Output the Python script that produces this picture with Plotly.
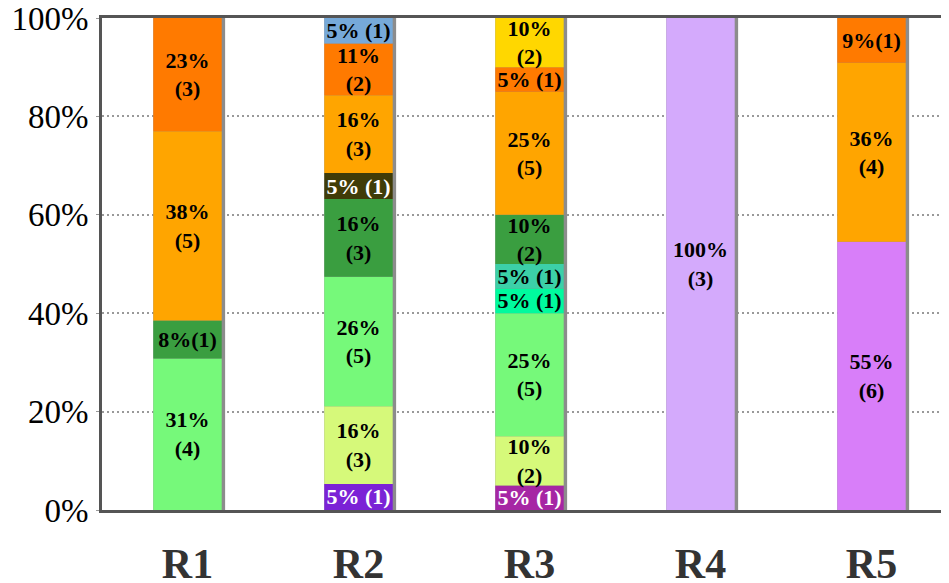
import plotly.graph_objects as go

# Data (bottom segment first)
cats = ["R1", "R2", "R3", "R4", "R5"]

r1_pct = [30.8, 7.7, 38.5, 23.0]
r1_labels = ["31%<br>(4)", "8%(1)", "38%<br>(5)", "23%<br>(3)"]

r2_pct = [5.3, 15.8, 26.3, 15.8, 5.3, 15.8, 10.5, 5.3]
r2_labels = ["5% (1)", "16%<br>(3)", "26%<br>(5)", "16%<br>(3)", "5% (1)",
             "16%<br>(3)", "11%<br>(2)", "5% (1)"]

r3_pct = [5, 10, 25, 5, 5, 10, 25, 5, 10]
r3_labels = ["5% (1)", "10%<br>(2)", "25%<br>(5)", "5% (1)", "5% (1)",
             "10%<br>(2)", "25%<br>(5)", "5% (1)", "10%<br>(2)"]

r4_pct = [100]
r4_labels = ["100%<br>(3)"]

r5_pct = [54.5, 36.4, 9.1]
r5_labels = ["55%<br>(6)", "36%<br>(4)", "9%(1)"]

y_ticks = [0, 20, 40, 60, 80, 100]
y_ticktext = ["0%", "20%", "40%", "60%", "80%", "100%"]

# Colours
pal = {
    "lgreen": "#76F97A", "dgreen": "#3A9E40", "orange": "#FFA500",
    "dorange": "#FF7A00", "purple": "#7B22D6", "ygreen": "#D6F97A",
    "olive": "#403C08", "blue": "#76A9D9", "magenta": "#A626A4",
    "spring": "#00FA9E", "teal": "#3CD0A8", "gold": "#FFD700",
    "lavender": "#D4AAFC", "orchid": "#D87EF9",
}
r1_col = ["lgreen", "dgreen", "orange", "dorange"]
r2_col = ["purple", "ygreen", "lgreen", "dgreen", "olive", "orange", "dorange", "blue"]
r3_col = ["magenta", "ygreen", "lgreen", "spring", "teal", "dgreen", "orange", "dorange", "gold"]
r4_col = ["lavender"]
r5_col = ["orchid", "orange", "dorange"]
white_text = {"purple", "olive", "magenta"}

bars = [
    (cats[0], r1_pct, r1_labels, r1_col),
    (cats[1], r2_pct, r2_labels, r2_col),
    (cats[2], r3_pct, r3_labels, r3_col),
    (cats[3], r4_pct, r4_labels, r4_col),
    (cats[4], r5_pct, r5_labels, r5_col),
]

fig = go.Figure()

# grey edge behind each bar
fig.add_trace(go.Bar(
    x=cats, y=[100] * len(cats), base=0,
    width=0.42, offset=-0.2,
    marker=dict(color="#8c8c8c", line_width=0),
    hoverinfo="skip",
))

for cat, pct, labels, cols in bars:
    base = 0
    for p, lab, c in zip(pct, labels, cols):
        fig.add_trace(go.Bar(
            x=[cat], y=[p], base=base,
            width=0.4, offset=-0.2,
            marker=dict(color=pal[c], line_width=0),
            text=[lab], textposition="inside", insidetextanchor="middle",
            textangle=0, constraintext="none",
            textfont=dict(family="Liberation Serif", size=22, weight="bold",
                          color="white" if c in white_text else "black"),
        ))
        base += p

# page body has an 8px margin, so margins are 8px smaller than the target
fig.update_layout(
    width=949, height=583,
    barmode="overlay",
    showlegend=False,
    plot_bgcolor="white", paper_bgcolor="white",
    margin=dict(l=94, r=0, t=10, b=81, autoexpand=False),
    font=dict(family="Liberation Serif"),
)

fig.update_xaxes(
    range=[-0.5, 4.5], automargin=False,
    showline=True, linecolor="#555555", linewidth=3, mirror=True,
    showgrid=False, ticks="",
    tickfont=dict(family="Liberation Serif", size=42, color="#333333", weight="bold"),
    ticklabelstandoff=15, ticklabeloverflow="allow",
)
fig.update_yaxes(
    range=[0, 100], automargin=False,
    tickvals=y_ticks, ticktext=y_ticktext,
    showline=True, linecolor="#555555", linewidth=3,
    showgrid=True, gridcolor="#999999", gridwidth=2, griddash="2px,3px",
    zeroline=False,
    ticks="outside", ticklen=3, tickcolor="#999999",
    tickfont=dict(family="Liberation Serif", size=33, color="black"),
    ticklabelstandoff=1, ticklabeloverflow="allow",
)

fig.write_html("out.html")
